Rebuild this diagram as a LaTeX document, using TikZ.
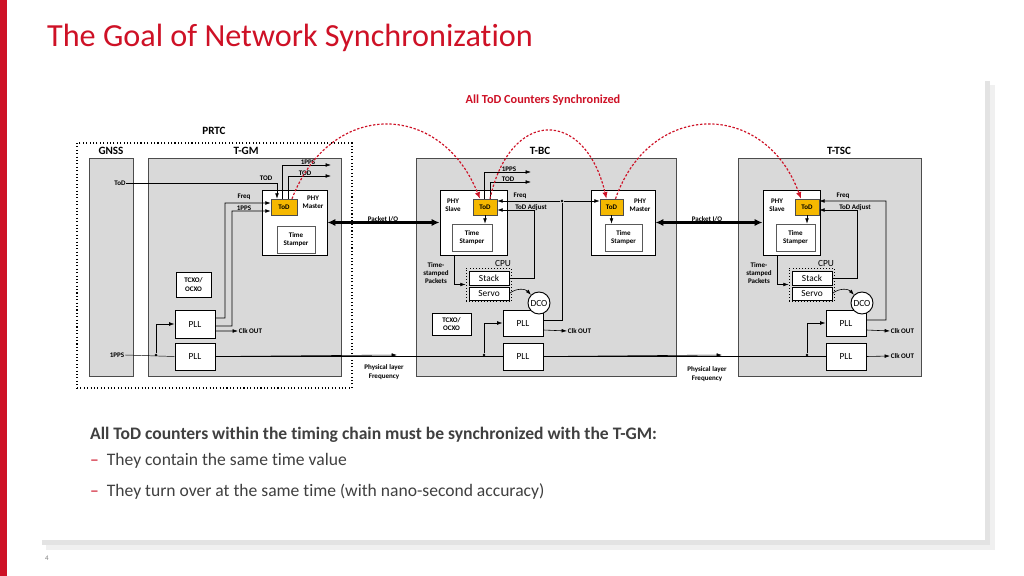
\documentclass[tikz,border=0pt]{standalone}
\usepackage{fontspec}
\setmainfont{Carlito}[Ligatures=NoCommon]
\usetikzlibrary{arrows.meta,positioning}
\definecolor{sred}{RGB}{206,17,38}
\definecolor{todorange}{RGB}{245,184,0}
\definecolor{grpgray}{RGB}{217,217,217}
\definecolor{txtgray}{RGB}{64,64,64}

\tikzset{
  px/.style 2 args={minimum width=#1*0.3mm, minimum height=#2*0.3mm, inner sep=0pt},
  grp/.style={draw=gray!60!black, fill=grpgray, line width=0.5pt},
  blk/.style={draw, fill=white, line width=0.8pt, font=\fontsize{8}{8}\selectfont},
  inner/.style={draw=gray!70!black, fill=white, line width=0.5pt, align=center, font=\fontsize{6}{7}\selectfont\bfseries},
  todbox/.style={draw=black!70, fill=todorange, font=\fontsize{6}{7}\selectfont\bfseries},
  lbl/.style={font=\fontsize{6}{7}\selectfont\bfseries, inner sep=0.5pt, align=center},
  head/.style={font=\fontsize{9.5}{10}\selectfont\bfseries},
  cpulbl/.style={font=\fontsize{8}{8}\selectfont},
  sig/.style={-{Latex[length=1.6mm,width=1.1mm]}, line width=0.5pt},
  pkt/.style={{Latex[length=2.4mm,width=2.2mm]}-{Latex[length=2.4mm,width=2.2mm]}, line width=1.8pt},
  sync/.style={-{Latex[length=2mm,width=1.6mm]}, sred, line width=1pt, dash pattern=on 2pt off 1.5pt},
  dot/.style={circle, fill, inner sep=0.8pt},
  dco/.style={circle, draw, fill=white, line width=0.8pt, minimum size=22*0.3mm, inner sep=0pt, font=\fontsize{8}{8}\selectfont},
}

\begin{document}
\begin{tikzpicture}[x=0.3mm, y=-0.3mm]
\useasboundingbox (0,0) rectangle (1024,576);
\fill[sred] (0,0) rectangle (7,576);
\node[anchor=west, text=sred, font=\fontsize{27.5}{32}\selectfont] (title) at (43,38) {The Goal of Network Synchronization};

% slide panel with shadow
\fill[gray!12] (46,85) rectangle (995,550);
\fill[gray!22] (42,81) rectangle (990,545);
\fill[white] (38,77) rectangle (985,540);

\node[text=sred, font=\fontsize{10.5}{12}\selectfont\bfseries] (allsync) at (543,100) {All ToD Counters Synchronized};

% groups
\node[draw, dotted, line width=0.9pt, px={275}{245}] (prtc) at (214.5,265.5) {};
\node[head] at (214,131) {PRTC};
\node[grp, px={44}{218}] (gnss) at (111,267) {};
\node[head] at (111,151) {GNSS};
\node[grp, px={193}{218}] (tgm) at (244.5,267) {};
\node[head] at (246,151) {T-GM};
\node[grp, px={260}{218}] (tbc) at (546,267) {};
\node[head] at (540,151) {T-BC};
\node[grp, px={183}{218}] (ttsc) at (829.5,267) {};
\node[head] at (839,151) {T-TSC};

% T-GM
\node[blk, px={65}{65}] (gmphy) at (294.5,222.5) {};
\node[lbl] at (313,202) {PHY\\Master};
\node[todbox, px={26}{16}] (gmtod) at (284,207) {ToD};
\node[inner, px={38}{27}] (gmts) at (296,239.5) {Time\\Stamper};
\node[inner, draw=black, px={35}{25}] (gmtcxo) at (193.5,284.5) {TCXO/\\OCXO};
\node[blk, px={40}{28}] (gmpll1) at (195,324) {PLL};
\node[blk, px={40}{27}] (gmpll2) at (195,356.5) {PLL};

\node[lbl] (gnsstod) at (120,183) {ToD};
\draw[sig] (gnsstod.east) -| ([xshift=-2.1mm]gmtod.north);
\node[lbl] at (266,178) {TOD};
\coordinate (gmppsout) at (331,165);
\coordinate (gmtodout) at (331,176);
\draw[sig] ([xshift=-0.6mm]gmtod.north) |- (gmppsout);
\draw[sig] ([xshift=1.2mm]gmtod.north) |- (gmtodout);
\node[lbl, anchor=south] at (308,165) {1PPS};
\node[lbl, anchor=south] at (305,176) {TOD};
\draw[sig] ([yshift=1.8mm]gmpll1.east) -| (225,203) -- ([yshift=1.2mm]gmtod.west);
\draw[sig] ([yshift=-0.6mm]gmpll1.east) -| (232,211) -- ([yshift=-1.2mm]gmtod.west);
\node[lbl] at (244,197) {Freq};
\node[lbl] at (244,208) {1PPS};
\node[lbl, anchor=west] (gmclk) at (238,331) {Clk OUT};
\draw[sig] ([yshift=-2.1mm]gmpll1.east) -- (gmclk.west);
\node[lbl] (gnsspps) at (117,355) {1PPS};
\node[dot] (gmdot) at (156,355) {};
\draw (gnsspps.east) -- (gmpll2.west);
\draw[sig] (gmdot) |- (gmpll1.west);

% T-BC
\node[blk, px={67}{65}] (tbcslave) at (473.5,222.5) {};
\node[lbl] at (453,205) {PHY\\Slave};
\node[todbox, px={24}{16}] (tbcstod) at (485,207) {ToD};
\node[inner, px={40}{27}] (tbcsts) at (472,237.5) {Time\\Stamper};
\draw[sig] (tbcstod.south) -- (tbcstod.south |- tbcsts.north);
\node[blk, px={64}{65}] (tbcmaster) at (623,222.5) {};
\node[lbl] at (640,205) {PHY\\Master};
\node[todbox, px={23}{16}] (tbcmtod) at (611.5,207) {ToD};
\node[inner, px={37}{27}] (tbcmts) at (623.5,237.5) {Time\\Stamper};
\draw[sig] (tbcmtod.south) -- (tbcmtod.south |- tbcmts.north);
\coordinate (tbcppsout) at (531,172);
\coordinate (tbctodout) at (531,182);
\draw[sig] ([xshift=-0.3mm]tbcstod.north) |- (tbcppsout);
\draw[sig] ([xshift=1.5mm]tbcstod.north) |- (tbctodout);
\node[lbl, anchor=south] at (509,172) {1PPS};
\node[lbl, anchor=south] at (508,182) {TOD};
\node[draw, dotted, line width=0.6pt, px={45}{33}] (tbccpu) at (488.5,284.5) {};
\node[cpulbl] at (503,263) {CPU};
\node[blk, px={40}{14}] (tbcstack) at (489,278) {Stack};
\node[blk, px={40}{13}] (tbcservo) at (489,293.5) {Servo};
\node[inner, draw=black, px={39}{22}] (tbctcxo) at (451.5,324) {TCXO/\\OCXO};
\node[blk, px={40}{26}] (tbcpll1) at (523,323) {PLL};
\node[dco] (tbcdco) at (539,303) {DCO};
\node[blk, px={40}{27}] (tbcpll2) at (523,356.5) {PLL};
\draw[sig] (tbcservo.east) to[bend left=45] (tbcdco.north west);
\node[dot] (tbcfdot) at (562,201) {};
\draw[sig] (tbcfdot) -- (tbcstod.east |- tbcfdot);
\draw[sig] (tbcfdot) -- (tbcmtod.west |- tbcfdot);
\draw (tbcfdot) |- ([yshift=0.9mm]tbcpll1.east);
\draw[sig] (tbcstack.east) -| (534,210) -- ([yshift=-0.9mm]tbcstod.east);
\node[lbl] at (520,196) {Freq};
\node[lbl] at (531,208) {ToD Adjust};
\node[lbl] (tbctsp) at (436,273) {Time-\\stamped\\Packets};
\draw[sig] ([xshift=-5.85mm]tbcslave.south) |- (tbccpu.west);
\node[dot] (tbcdot) at (484,355) {};
\draw[sig] (tbcdot) |- (tbcpll1.west);
\node[lbl, anchor=west] (tbcclk) at (567,331) {Clk OUT};
\draw[sig] ([yshift=-2.1mm]tbcpll1.east) -- (tbcclk.west);

% T-TSC
\node[blk, px={57}{65}] (tscslave) at (791.5,222.5) {};
\node[lbl] at (777,205) {PHY\\Slave};
\node[todbox, px={24}{16}] (tsctod) at (807,207) {ToD};
\node[inner, px={39}{27}] (tscts) at (795.5,237.5) {Time\\Stamper};
\draw[sig] (tsctod.south) -- (tsctod.south |- tscts.north);
\node[draw, dotted, line width=0.6pt, px={45}{33}] (tsccpu) at (811.5,284.5) {};
\node[cpulbl] at (826,263) {CPU};
\node[blk, px={40}{14}] (tscstack) at (812,278) {Stack};
\node[blk, px={40}{13}] (tscservo) at (812,293.5) {Servo};
\node[blk, px={40}{26}] (tscpll1) at (846,323) {PLL};
\node[dco] (tscdco) at (862,303) {DCO};
\node[blk, px={40}{27}] (tscpll2) at (846,356.5) {PLL};
\draw[sig] (tscservo.east) to[bend left=45] (tscdco.north west);
\draw[sig] ([yshift=0.9mm]tscpll1.east) -| (886,201) -- ([yshift=1.8mm]tsctod.east);
\draw[sig] (tscstack.east) -| (857,210) -- ([yshift=-0.9mm]tsctod.east);
\node[lbl] at (843,196) {Freq};
\node[lbl] at (855,208) {ToD Adjust};
\node[lbl] (tsctsp) at (759,273) {Time-\\stamped\\Packets};
\draw[sig] ([xshift=-4.35mm]tscslave.south) |- (tsccpu.west);
\node[dot] (tscdot) at (807,355) {};
\draw[sig] (tscdot) |- (tscpll1.west);
\node[lbl, anchor=west] (tscclk1) at (890,331) {Clk OUT};
\node[lbl, anchor=west] (tscclk2) at (890,356) {Clk OUT};
\draw[sig] ([yshift=-2.1mm]tscpll1.east) -- (tscclk1.west);
\draw[sig] (tscpll2.east) -- (tscclk2.west);

% links between clocks
\draw[pkt] (gmphy.east) -- (tbcslave.west);
\node[lbl] at (383,219) {Packet I/O};
\draw[pkt] (tbcmaster.east) -- (tscslave.west);
\node[lbl] at (707,219) {Packet I/O};
\coordinate (phyarr1) at (397,355);
\coordinate (phyarr2) at (722,355);
\draw (gmpll2.east) -- (tbcpll2.west);
\draw[sig] (gmpll2.east) -- (phyarr1);
\draw (tbcpll2.east) -- (tscpll2.west);
\draw[sig] (tbcpll2.east) -- (phyarr2);
\node[lbl] at (384,372) {Physical layer\\Frequency};
\node[lbl] at (707,374) {Physical layer\\Frequency};

% ToD synchronization
\draw[sync] ([xshift=2.4mm]gmtod.north) .. controls (330,100) and (440,100) .. ([xshift=-1.5mm]tbcstod.north);
\draw[sync] ([xshift=1.5mm]tbcstod.north) .. controls (510,108) and (585,108) .. ([xshift=-1.5mm]tbcmtod.north);
\draw[sync] ([xshift=1.2mm]tbcmtod.north) .. controls (650,100) and (765,100) .. ([xshift=-1.8mm]tsctod.north);

% summary text
\node[anchor=west, text=txtgray, font=\fontsize{15}{17}\selectfont\bfseries] (sum) at (86,435) {All ToD counters within the timing chain must be synchronized with the T-GM:};
\node[anchor=west, text=txtgray, font=\fontsize{15}{17}\selectfont] (pt1) at (86,461) {\textcolor{sred}{–}\ \ They contain the same time value};
\node[anchor=west, text=txtgray, font=\fontsize{15}{17}\selectfont] (pt2) at (86,491) {\textcolor{sred}{–}\ \ They turn over at the same time {\Large(}with nano-second accuracy)};
\node[text=gray, font=\fontsize{6}{7}\selectfont] (page) at (47,558) {4};
\end{tikzpicture}
\end{document}
